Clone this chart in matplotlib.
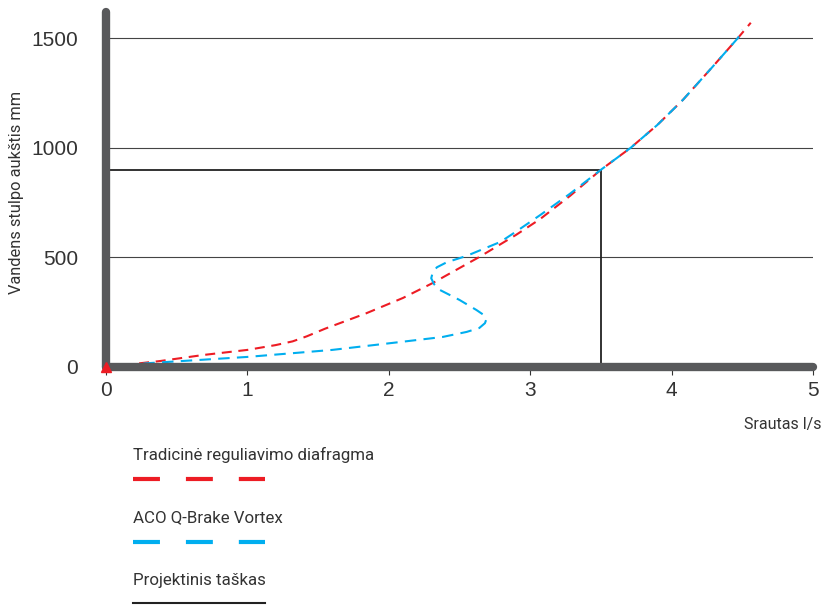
import matplotlib.pyplot as plt
from matplotlib.lines import Line2D

# Curve values (flow l/s, head mm)
trad_q = [0, 0.38, 0.69, 1.0, 1.2, 1.32, 1.42, 1.55, 1.84, 2.1, 2.31, 2.64, 2.9, 3.07, 3.28,
          3.5, 3.71, 3.9, 4.08, 4.29, 4.47, 4.56]
trad_h = [0, 27, 55, 78, 100, 117, 140, 175, 245, 315, 383, 502, 603, 675, 780,
          900, 1000, 1105, 1219, 1370, 1502, 1571]

aco_q = [0, 0.31, 1.0, 1.6, 2.08, 2.38, 2.55, 2.64, 2.68, 2.69, 2.67, 2.62, 2.50, 2.36,
         2.32, 2.30, 2.31, 2.34, 2.41, 2.55, 2.79, 2.90, 3.07, 3.28, 3.5, 3.71, 3.9,
         4.08, 4.29, 4.47, 4.5]
aco_h = [0, 18, 46, 78, 114, 137, 160, 178, 200, 218, 238, 260, 306, 352,
         378, 405, 430, 455, 478, 507, 571, 618, 693, 790, 900, 1000, 1105,
         1219, 1370, 1502, 1539]

design_q = 3.5
design_h = 900

x_ticks = [0, 1, 2, 3, 4, 5]
y_ticks = [0, 500, 1000, 1500]

red = "#ed1c24"
blue = "#00aeef"
axis_gray = "#58595b"
narrow = ["Roboto", "DejaVu Sans"]

fig = plt.figure(figsize=(8.24, 6.05), dpi=100)
ax = fig.add_axes([106 / 824, 1 - 367 / 605, (813 - 106) / 824, (367 - 12) / 605])
ax.set_xlim(0, 5)
ax.set_ylim(0, 1620)

# grid lines
for yv in y_ticks[1:]:
    ax.plot([0, 5], [yv, yv], color="#444444", lw=0.8, zorder=1)

# design point lines
ax.plot([0, design_q], [design_h, design_h], color="#222222", lw=1.3, zorder=2)
ax.plot([design_q, design_q], [design_h, 0], color="#222222", lw=1.3, zorder=2)

ax.plot(trad_q, trad_h, color=red, lw=1.5, dashes=(4.8, 3.2), zorder=3)
ax.plot(aco_q, aco_h, color=blue, lw=1.5, dashes=(5.5, 3.5), dash_capstyle="butt",
        solid_joinstyle="round", zorder=3)
ax.plot([0], [0], marker="^", color=red, ms=7, clip_on=False, zorder=6)

for s in ["top", "right"]:
    ax.spines[s].set_visible(False)
for s in ["left", "bottom"]:
    ax.spines[s].set_color(axis_gray)
    ax.spines[s].set_linewidth(6)
    ax.spines[s].set_capstyle("round")
    ax.spines[s].set_zorder(5)

ax.set_xticks(x_ticks)
ax.set_yticks(y_ticks)
ax.tick_params(axis="x", length=6, width=0.8, color="#333333", pad=4,
               labelsize=15, labelcolor="#333333")
ax.tick_params(axis="y", length=0, pad=20, labelsize=15, labelcolor="#333333")
for lab in ax.get_xticklabels() + ax.get_yticklabels():
    lab.set_fontfamily("Liberation Sans")

fig.text(17 / 824, 1 - 192 / 605, "Vandens stulpo aukštis mm", rotation=90,
         ha="center", va="center", fontsize=11.8, color="#333333", family=narrow)
fig.text(821 / 824, 1 - 425 / 605, "Srautas l/s", ha="right", va="center",
         fontsize=11.5, color="#333333", family=narrow)

# legend below the chart
fig.text(133 / 824, 1 - 455 / 605, "Tradicinė reguliavimo diafragma", ha="left",
         va="center", fontsize=12.2, color="#333333", family=narrow)
fig.text(133 / 824, 1 - 518 / 605, "ACO Q-Brake Vortex", ha="left",
         va="center", fontsize=12.2, color="#333333", family=narrow)
fig.text(133 / 824, 1 - 580 / 605, "Projektinis taškas", ha="left",
         va="center", fontsize=12.2, color="#333333", family=narrow)

lw = 3
fig.add_artist(Line2D([133 / 824, 265 / 824], [1 - 479 / 605] * 2, color=red, lw=lw,
                      dashes=(19.4 / lw, 18.7 / lw), transform=fig.transFigure))
fig.add_artist(Line2D([133 / 824, 265 / 824], [1 - 542 / 605] * 2, color=blue, lw=lw,
                      dashes=(19.4 / lw, 18.7 / lw), transform=fig.transFigure))
fig.add_artist(Line2D([133 / 824, 265 / 824], [1 - 603 / 605] * 2, color="#222222", lw=1.5,
                      transform=fig.transFigure))

fig.savefig("out.png", dpi=100)
